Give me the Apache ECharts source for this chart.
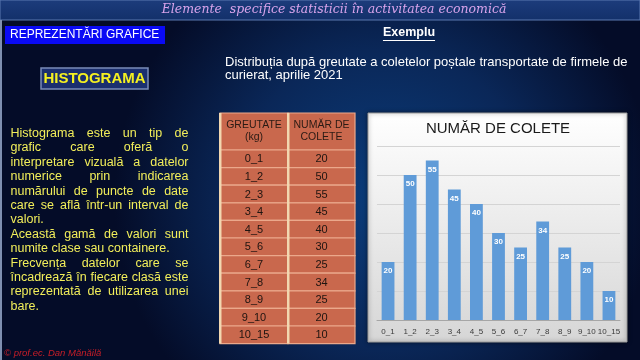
<!DOCTYPE html>
<html><head><meta charset="utf-8">
<script src="https://cdn.jsdelivr.net/npm/echarts@6/dist/echarts.min.js"></script>
<style>html,body{margin:0;padding:0;background:#071530}#c{width:640px;height:360px}</style>
</head><body><div id="c"></div><script>
// ---- data ----
const categories = ['0_1','1_2','2_3','3_4','4_5','5_6','6_7','7_8','8_9','9_10','10_15'];
const values = [20,50,55,45,40,30,25,34,25,20,10];
const tableHeaders = ['GREUTATE\n(kg)','NUMĂR DE\nCOLETE'];
const yMin = 0, yMax = 60, yStep = 10;
const slideTitle = 'Elemente  specifice statisticii în activitatea economică';
const sectionLabel = 'REPREZENTĂRI GRAFICE';
const topicLabel = 'HISTOGRAMA';
const exampleLabel = 'Exemplu';
const subtitleLines = ['Distribuția după greutate a coletelor poștale transportate de firmele de','curierat, aprilie 2021'];
const chartTitle = 'NUMĂR DE COLETE';
const bodyLines = [
  ['Histograma este un tip de', true],
  ['grafic care oferă o', true],
  ['interpretare vizuală a datelor', true],
  ['numerice prin indicarea', true],
  ['numărului de puncte de date', true],
  ['care se află într-un interval de', true],
  ['valori.', false],
  ['Această gamă de valori sunt', true],
  ['numite clase sau containere.', false],
  ['Frecvența datelor care se', true],
  ['încadrează în fiecare clasă este', true],
  ['reprezentată de utilizarea unei', true],
  ['bare.', false]
];
const footer = '© prof.ec. Dan Mănăilă';

// ---- layout helpers ----
const FONT = '"Liberation Sans", Arial, sans-serif';
const mctx = document.createElement('canvas').getContext('2d');
function tw(t, size, weight){ mctx.font = (weight||'normal')+' '+size+'px '+FONT; return mctx.measureText(t).width; }

const g = [];
// top banner
g.push({type:'rect', shape:{x:0,y:0,width:640,height:20}, style:{fill:new echarts.graphic.LinearGradient(0,0,0,1,[{offset:0,color:'#1d3c7c'},{offset:1,color:'#13306a'}]), stroke:'#5a78b0', lineWidth:1}, z:1});
g.push({type:'text', x:334, y:10, style:{text:slideTitle, fill:'#d7a3ea', font:'italic 12.5px "DejaVu Serif", serif', textAlign:'center', textVerticalAlign:'middle'}, z:2});
// left border line
g.push({type:'rect', shape:{x:0,y:20,width:2,height:340}, style:{fill:'#7f8fb0'}, z:1});
// section label
g.push({type:'rect', shape:{x:5,y:26,width:160,height:18}, style:{fill:'#0a0af5'}, z:1});
g.push({type:'text', x:10, y:35, style:{text:sectionLabel, fill:'#ffffff', font:'12px '+FONT, textVerticalAlign:'middle'}, z:2});
// topic box
g.push({type:'rect', shape:{x:41,y:68,width:107,height:21}, style:{fill:'#1b2f6e', stroke:'#7a8cb8', lineWidth:1.5}, z:1});
g.push({type:'text', x:94.5, y:79, style:{text:topicLabel, fill:'#f5f020', font:'bold 15px '+FONT, textAlign:'center', textVerticalAlign:'middle'}, z:2});
// body text, justified
const bx0 = 10.5, bx1 = 188.5, by0 = 133.5, bdy = 14.4, bsize = 12.5;
bodyLines.forEach((ln, i) => {
  const y = by0 + i*bdy;
  const words = ln[0].split(' ');
  if (!ln[1] || words.length < 2) {
    g.push({type:'text', x:bx0, y:y, style:{text:ln[0], fill:'#f2ee5a', font:bsize+'px '+FONT, textVerticalAlign:'middle'}, z:2});
  } else {
    const ws = words.map(w => tw(w, bsize));
    const tot = ws.reduce((a,b)=>a+b,0);
    const gap = Math.max(2, (bx1-bx0-tot)/(words.length-1));
    let x = bx0;
    words.forEach((w, k) => {
      g.push({type:'text', x:x, y:y, style:{text:w, fill:'#f2ee5a', font:bsize+'px '+FONT, textVerticalAlign:'middle'}, z:2});
      x += ws[k] + gap;
    });
  }
});
// example label + subtitle
g.push({type:'text', x:409, y:33, style:{text:exampleLabel, fill:'#ffffff', font:'bold 12.5px '+FONT, textAlign:'center', textVerticalAlign:'middle'}, z:2});
const exW = tw(exampleLabel, 12.5, 'bold');
g.push({type:'line', shape:{x1:409-exW/2, y1:40.5, x2:409+exW/2, y2:40.5}, style:{stroke:'#ffffff', lineWidth:1}, z:2});
subtitleLines.forEach((t, i) => {
  g.push({type:'text', x:225, y:62+i*13.5, style:{text:t, fill:'#ffffff', font:'13px '+FONT, textVerticalAlign:'middle'}, z:2});
});
// table
const tX = [220, 288], tW = [68, 67], tY0 = 113, hdrH = 37, rowH = 17.6;
tableHeaders.forEach((h, c) => {
  g.push({type:'rect', shape:{x:tX[c], y:tY0, width:tW[c], height:hdrH}, style:{fill:'#c9684d', stroke:'#eba88b', lineWidth:1.2}, z:1});
  g.push({type:'text', x:tX[c]+tW[c]/2, y:tY0+hdrH/2, style:{text:h, fill:'#2a1a14', font:'10.5px '+FONT, textAlign:'center', textVerticalAlign:'middle', lineHeight:12}, z:2});
});
categories.forEach((cat, i) => {
  const y = tY0 + hdrH + i*rowH;
  [cat, String(values[i])].forEach((t, c) => {
    g.push({type:'rect', shape:{x:tX[c], y:y, width:tW[c], height:rowH}, style:{fill:'#c9684d', stroke:'#eba88b', lineWidth:1.2}, z:1});
    g.push({type:'text', x:tX[c]+tW[c]/2, y:y+rowH/2+0.5, style:{text:t, fill:'#1e1410', font:'11px '+FONT, textAlign:'center', textVerticalAlign:'middle'}, z:2});
  });
});
g.push({type:'rect', shape:{x:219, y:tY0, width:2.5, height:hdrH+rowH*categories.length}, style:{fill:'#f2d7b0'}, z:3});
g.push({type:'rect', shape:{x:287, y:tY0, width:2.5, height:hdrH+rowH*categories.length}, style:{fill:'#f2d7b0'}, z:3});
// chart panel
g.push({type:'rect', shape:{x:368, y:113, width:259, height:229}, style:{fill:new echarts.graphic.LinearGradient(0,0,0,1,[{offset:0,color:'#ffffff'},{offset:1,color:'#d6d6d6'}]), stroke:'#9a9a9a', lineWidth:1, shadowBlur:4, shadowColor:'rgba(0,0,0,0.5)'}, z:0});
g.push({type:'text', x:498, y:129, style:{text:chartTitle, fill:'#1a1a1a', font:'15px '+FONT, textAlign:'center', textVerticalAlign:'middle'}, z:2});
// footer
g.push({type:'text', x:4, y:353, style:{text:footer, fill:'#c81e28', font:'italic 9.5px '+FONT, textVerticalAlign:'middle'}, z:2});

const chart = echarts.init(document.getElementById('c'), null, {renderer:'canvas'});
chart.setOption({
  animation:false,
  backgroundColor:new echarts.graphic.RadialGradient(0.6, 0.55, 0.75, [{offset:0,color:'#0b3d7c'},{offset:0.55,color:'#0a2758'},{offset:1,color:'#040c28'}]),
  graphic:{elements:g},
  grid:{left:377, right:20, top:146, bottom:40},
  xAxis:{type:'category', data:categories,
    axisLine:{lineStyle:{color:'#a6a6a6', width:1}}, axisTick:{show:false},
    axisLabel:{color:'#3a3a3a', fontSize:8, margin:8, interval:0, fontFamily:FONT}},
  yAxis:{type:'value', min:yMin, max:yMax, interval:yStep, axisLabel:{show:false}, axisLine:{show:false}, axisTick:{show:false},
    splitLine:{lineStyle:{color:'#d4d4d4', width:1}}},
  series:[{type:'bar', data:values, barWidth:'58%', z:5,
    itemStyle:{color:'#5f9bd8'},
    label:{show:true, position:'insideTop', distance:5, color:'#ffffff', fontSize:8, fontWeight:'bold', fontFamily:FONT}}]
});
</script></body></html>
